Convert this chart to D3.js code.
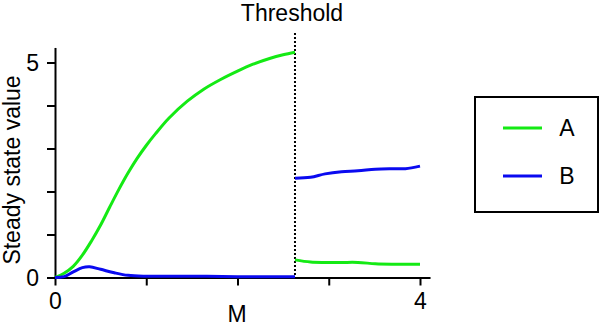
<!DOCTYPE html>
<html><head><meta charset="utf-8">
<script src="https://cdn.jsdelivr.net/npm/d3@7"></script>
<style>body{margin:0;background:#fff}svg{display:block;font-family:"Liberation Sans",Arial,sans-serif}</style>
</head><body><svg id="c" width="600" height="328"></svg>
<script>
const seriesNames = ["A", "B"];
const threshold = 2.63;
const mBefore = [0, 0.1, 0.2, 0.3, 0.4, 0.5, 0.6, 0.7, 0.8, 0.9, 1.0, 1.1, 1.25, 1.45, 1.63, 1.81, 2.0, 2.17, 2.36, 2.5, 2.63];
const aBefore = [0, 0.1, 0.26, 0.52, 0.85, 1.22, 1.64, 2.05, 2.43, 2.77, 3.07, 3.34, 3.71, 4.1, 4.38, 4.6, 4.8, 4.96, 5.1, 5.18, 5.24];
const mBeforeB = [0, 0.1, 0.2, 0.3, 0.38, 0.5, 0.65, 0.8, 1.0, 1.5, 2.0, 2.63];
const bBefore = [0, 0.02, 0.13, 0.23, 0.25, 0.19, 0.11, 0.05, 0.03, 0.03, 0.02, 0.02];
const mAfter = [2.63, 2.8, 2.96, 3.14, 3.32, 3.51, 3.69, 3.84, 4.0];
const aAfter = [0.41, 0.36, 0.35, 0.35, 0.35, 0.32, 0.31, 0.31, 0.31];
const bAfter = [2.31, 2.33, 2.41, 2.46, 2.48, 2.52, 2.53, 2.53, 2.59];
const xTicks = [0, 1, 2, 3, 4];
const xTickLabels = ["0", "", "", "", "4"];
const yTicks = [0, 1, 2, 3, 4, 5];
const yTickLabels = ["0", "", "", "", "", "5"];
const colors = {A: "#14ea14", B: "#0a0af0"};
const FS = 23;

const svg = d3.select("#c");
const x = d3.scaleLinear().domain([0, 4.11]).range([55, 55 + 4.11 * 91.25]);
const y = d3.scaleLinear().domain([0, 5.35]).range([277.5, 277.5 - 5.35 * 43]);

const xAxis = svg.append("g").attr("transform", `translate(0,${y(0)})`)
  .call(d3.axisBottom(x).tickValues(xTicks).tickSizeInner(8).tickSizeOuter(0).tickPadding(5)
    .tickFormat((d, i) => xTickLabels[i]));
const yAxis = svg.append("g").attr("transform", `translate(${x(0)},0)`)
  .call(d3.axisLeft(y).tickValues(yTicks).tickSizeInner(8).tickSizeOuter(0).tickPadding(8)
    .tickFormat((d, i) => yTickLabels[i]));
[xAxis, yAxis].forEach(g => {
  g.select(".domain").attr("stroke", "#000").attr("stroke-width", 2);
  g.selectAll(".tick line").attr("stroke", "#000").attr("stroke-width", 2);
  g.selectAll(".tick text").attr("fill", "#000").attr("font-size", FS).attr("font-family", "Liberation Sans, Arial, sans-serif");
});
xAxis.selectAll(".tick text").attr("dy", "0.8em");
yAxis.selectAll(".tick text").attr("dy", "0.36em");

// threshold line
svg.append("line").attr("x1", x(threshold)).attr("x2", x(threshold))
  .attr("y1", 33).attr("y2", y(0))
  .attr("stroke", "#000").attr("stroke-width", 2).attr("stroke-dasharray", "2,2");
svg.append("text").attr("x", x(threshold) - 3).attr("y", 21).attr("text-anchor", "middle")
  .attr("font-size", FS).text("Threshold");

const line = d3.line().x(d => x(d[0])).y(d => y(d[1])).curve(d3.curveCatmullRom);
const zip = (a, b) => a.map((v, i) => [v, b[i]]);
const segs = [
  {s: "A", d: zip(mBefore, aBefore)},
  {s: "B", d: zip(mBeforeB, bBefore)},
  {s: "A", d: zip(mAfter, aAfter)},
  {s: "B", d: zip(mAfter, bAfter)}
];
svg.append("g").selectAll("path").data(segs).join("path")
  .attr("d", d => line(d.d)).attr("fill", "none")
  .attr("stroke", d => colors[d.s]).attr("stroke-width", 3);

// axis titles
svg.append("text").attr("x", 237).attr("y", 322).attr("text-anchor", "middle").attr("font-size", FS).text("M");
svg.append("text").attr("transform", "translate(20,170) rotate(-90)").attr("text-anchor", "middle")
  .attr("font-size", FS).text("Steady state value");

// legend
const lg = svg.append("g");
lg.append("rect").attr("x", 475).attr("y", 97).attr("width", 123).attr("height", 115)
  .attr("fill", "#fff").attr("stroke", "#000").attr("stroke-width", 2);
seriesNames.forEach((s, i) => {
  const yy = 128 + i * 48;
  lg.append("line").attr("x1", 503).attr("x2", 542).attr("y1", yy).attr("y2", yy)
    .attr("stroke", colors[s]).attr("stroke-width", 3);
  lg.append("text").attr("x", 567).attr("y", yy).attr("dy", "0.36em").attr("text-anchor", "middle")
    .attr("font-size", FS).text(s);
});
</script></body></html>
